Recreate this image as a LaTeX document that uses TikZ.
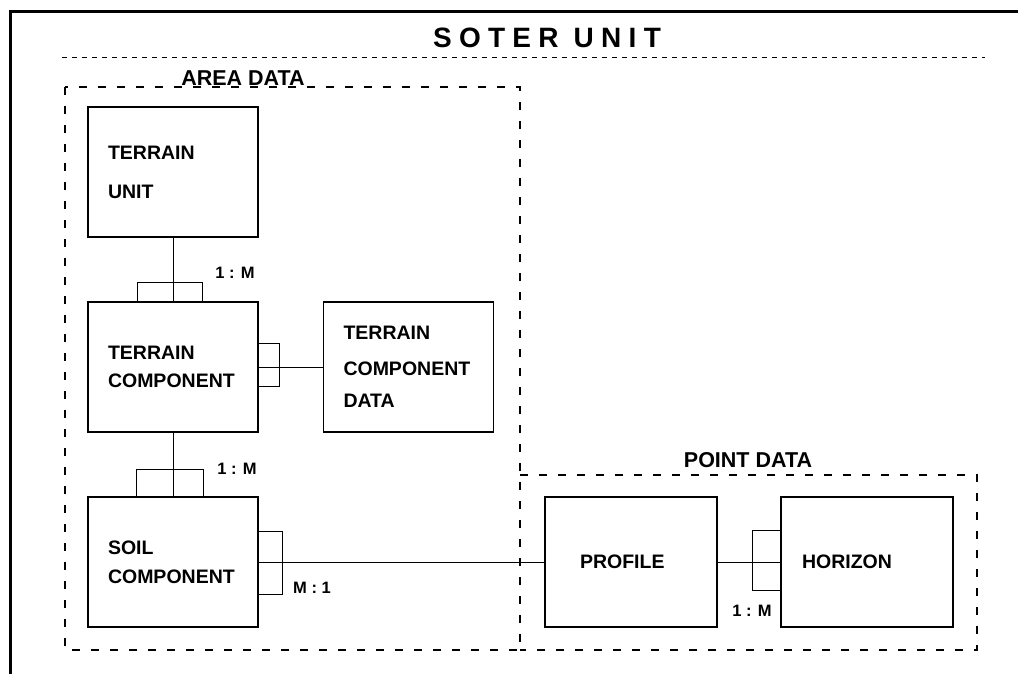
\documentclass[tikz,border=0pt]{standalone}
\usepackage{fontspec}
\setmainfont{Liberation Sans}
\usetikzlibrary{calc}
\tikzset{
  entity/.style    = {draw, rectangle, line width=1.2pt,
                      minimum width=170pt, minimum height=130pt,
                      text width=130pt, align=left, inner xsep=20pt,
                      font=\fontsize{19.5}{24}\selectfont\bfseries},
  groupbox/.style  = {draw, line width=1.3pt, dash pattern=on 8pt off 11pt},
  grplabel/.style  = {font=\fontsize{21.5}{26}\selectfont\bfseries},
  cardlabel/.style = {font=\fontsize{16.5}{18}\selectfont\bfseries},
  relline/.style   = {line width=1pt},
}
\begin{document}
\begin{tikzpicture}[x=1pt, y=-1pt]
\useasboundingbox (0,0) rectangle (1018,674);

% outer frame and title
\draw[line width=3pt] (10,674) -- (10,12) -- (1018,12);
\node[font=\fontsize{28}{32}\selectfont\bfseries\addfontfeature{LetterSpace=26}]
  (title) at (547,38) {SOTER UNIT};
\draw[line width=1pt, dash pattern=on 5pt off 5pt] (62,58) -- (985,58);

% group areas
\draw[groupbox] (65,87) rectangle (520,650);
\draw[groupbox] (520,475) -| (977,650) -- (520,650);
\node[grplabel] (arealbl)  at (243,78)  {AREA DATA};
\node[grplabel] (pointlbl) at (748,460) {POINT DATA};

% entities
\node[entity] (tu)  at (173,172) {TERRAIN\\[15pt]UNIT};
\node[entity] (tc)  at (173,367) {TERRAIN\\[4pt]COMPONENT};
\node[entity, minimum width=169pt] (tcd) at (408.5,367)
  {TERRAIN\\[12pt]COMPONENT\\[8pt]DATA};
\node[entity] (sc)  at (173,562) {SOIL\\[5pt]COMPONENT};
\node[entity, minimum width=172pt] (pr) at (631,562) {\hspace*{14pt}PROFILE};
\node[entity, minimum width=172pt] (hz) at (867,562) {HORIZON};

% relations
\draw[relline] (tu) -- (tc);
\draw[relline] ($(tc.north)+(-36,0)$) |- ($(tc.north)+(29,-19)$) -- ($(tc.north)+(29,0)$);
\node[cardlabel] (c1) at (235,273) {1 : M};

\draw[relline] (tc) -- (tcd);
\draw[relline] ($(tc.east)+(0,-24)$) -| ($(tc.east)+(21,19)$) -- ($(tc.east)+(0,19)$);

\draw[relline] (tc) -- (sc);
\draw[relline] ($(sc.north)+(-37,0)$) |- ($(sc.north)+(30,-27)$) -- ($(sc.north)+(30,0)$);
\node[cardlabel] (c2) at (237,469) {1 : M};

\draw[relline] (sc) -- (pr);
\draw[relline] ($(sc.east)+(0,-31)$) -| ($(sc.east)+(24,32)$) -- ($(sc.east)+(0,32)$);
\node[cardlabel] (c3) at (312,588) {M : 1};

\draw[relline] (pr) -- (hz);
\draw[relline] ($(hz.west)+(0,-32)$) -| ($(hz.west)+(-28,28)$) -- ($(hz.west)+(0,28)$);
\node[cardlabel] (c4) at (752,611) {1 : M};

\end{tikzpicture}
\end{document}
